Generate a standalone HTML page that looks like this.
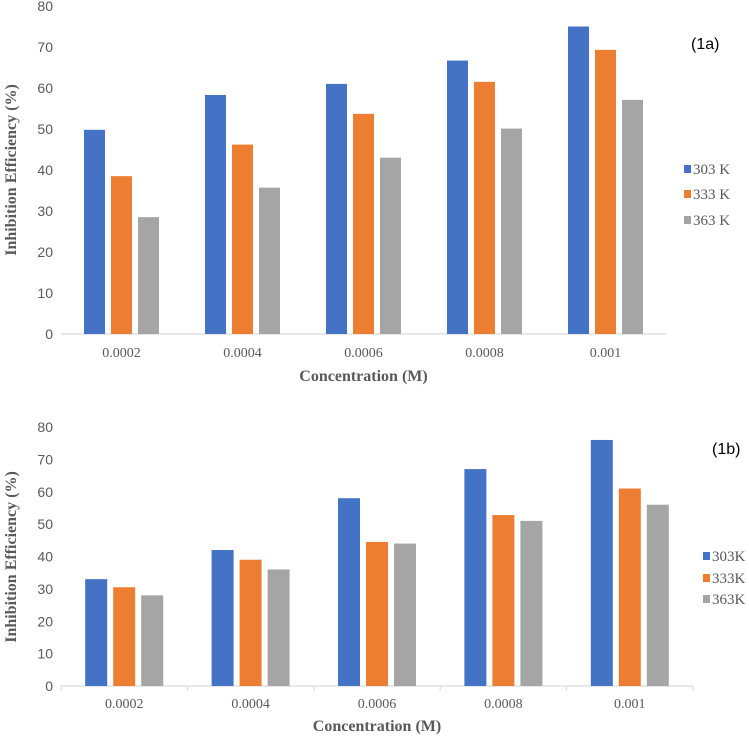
<!DOCTYPE html>
<html><head><meta charset="utf-8"><style>
html,body{margin:0;padding:0;background:#fff;}
svg{display:block;}
</style></head><body>
<svg id="chart" width="749" height="736" xmlns="http://www.w3.org/2000/svg"></svg>
<script>
const categories = ["0.0002","0.0004","0.0006","0.0008","0.001"];
const yTicks = [0,10,20,30,40,50,60,70,80];
const seriesA303 = [49.8,58.3,61.0,66.7,75.0];
const seriesA333 = [38.5,46.2,53.7,61.5,69.3];
const seriesA363 = [28.5,35.7,43.0,50.1,57.1];
const seriesB303 = [33,42,58,67,76];
const seriesB333 = [30.5,39,44.5,52.8,61];
const seriesB363 = [28,36,44,51,56];
const legendA = ["303 K","333 K","363 K"];
const legendB = ["303K","333K","363K"];
const colors = ["#4472C4","#ED7D31","#A5A5A5"];
const NS="http://www.w3.org/2000/svg";
const svg=document.getElementById('chart');
function mk(tag,attrs,parent){const e=document.createElementNS(NS,tag);for(const k in attrs)e.setAttribute(k,attrs[k]);(parent||svg).appendChild(e);return e;}
function panel(cfg){
  const g=mk('g',{});
  
  
  const y=v=>cfg.y0-(v/80)*(cfg.y0-cfg.y80);
  const cw=(cfg.x1-cfg.x0)/categories.length;
  yTicks.forEach(t=>{
    const tx=mk('text',{x:cfg.x0-8,y:y(t)+5,'text-anchor':'end','font-family':'Liberation Sans, sans-serif','font-size':'14','fill':'#595959'},g);
    tx.textContent=t;
    
    
  });
  const ax=mk('line',{x1:cfg.x0,x2:cfg.x1,y1:cfg.y0,y2:cfg.y0,stroke:'#d9d9d9','stroke-width':1.2},g);
  
  
  if(cfg.ticks){for(let i=0;i<=categories.length;i++){const l=mk('line',{x1:cfg.x0+i*cw,x2:cfg.x0+i*cw,y1:cfg.y0,y2:cfg.y0+5,stroke:'#d9d9d9'},g);
    
    }}
  const series=cfg.series;
  categories.forEach((c,i)=>{
    const cx0=cfg.x0+i*cw;
    const groupW=3*cfg.bw+2*cfg.gap;
    const start=cx0+(cw-groupW)/2;
    series.forEach((s,j)=>{
      const v=s[i];
      const r=mk('rect',{x:start+j*(cfg.bw+cfg.gap),y:y(v),width:cfg.bw,height:cfg.y0-y(v),fill:colors[j]},g);
      
      
    });
    const tl=mk('text',{x:cx0+cw/2,y:cfg.labelY,'text-anchor':'middle','font-family':'Liberation Serif, serif','font-size':'14','fill':'#595959'},g);
    tl.textContent=c;
    
    
  });
  const xt=mk('text',{x:(cfg.x0+cfg.x1)/2,y:cfg.titleY,'text-anchor':'middle','font-family':'Liberation Serif, serif','font-size':'16','font-weight':'bold','fill':'#595959'},g);
  xt.textContent='Concentration (M)';
  
  
  const yt=mk('text',{x:0,y:0,transform:`translate(${cfg.yTitleX},${cfg.yTitleY}) rotate(-90)`,'text-anchor':'middle','font-family':'Liberation Serif, serif','font-size':'16','font-weight':'bold','fill':'#595959'},g);
  yt.textContent='Inhibition Efficiency (%)';
  
  
  cfg.legend.forEach((lab,j)=>{
    const ly=cfg.legY[j];
    const sq=mk('rect',{x:cfg.legX,y:ly-5,width:7,height:8,fill:colors[j]},g);
    
    
    const lt=mk('text',{x:cfg.legX+9,y:ly+4,'font-family':'Liberation Serif, serif','font-size':'15','fill':'#595959'},g);
    lt.textContent=lab;
    
    
  });
  const pl=mk('text',{x:cfg.panelX,y:cfg.panelY,'font-family':'Liberation Sans, sans-serif','font-size':'16','fill':'#000'},g);
  pl.textContent=cfg.panelLabel;
  
  
}
panel({name:'chart-1a',x0:61,x1:666,y0:334,y80:6,bw:21,gap:6,ticks:false,labelY:357,titleY:381,yTitleX:16,yTitleY:170,
  series:[seriesA303,seriesA333,seriesA363],legend:legendA,legX:684,legY:[170,195,221],panelX:691,panelY:49,panelLabel:'(1a)'});
panel({name:'chart-1b',x0:61,x1:693,y0:686,y80:427,bw:22,gap:6,ticks:true,labelY:708,titleY:731,yTitleX:16,yTitleY:557,
  series:[seriesB303,seriesB333,seriesB363],legend:legendB,legX:703,legY:[557,579,600],panelX:712,panelY:454,panelLabel:'(1b)'});
</script>
</body></html>
